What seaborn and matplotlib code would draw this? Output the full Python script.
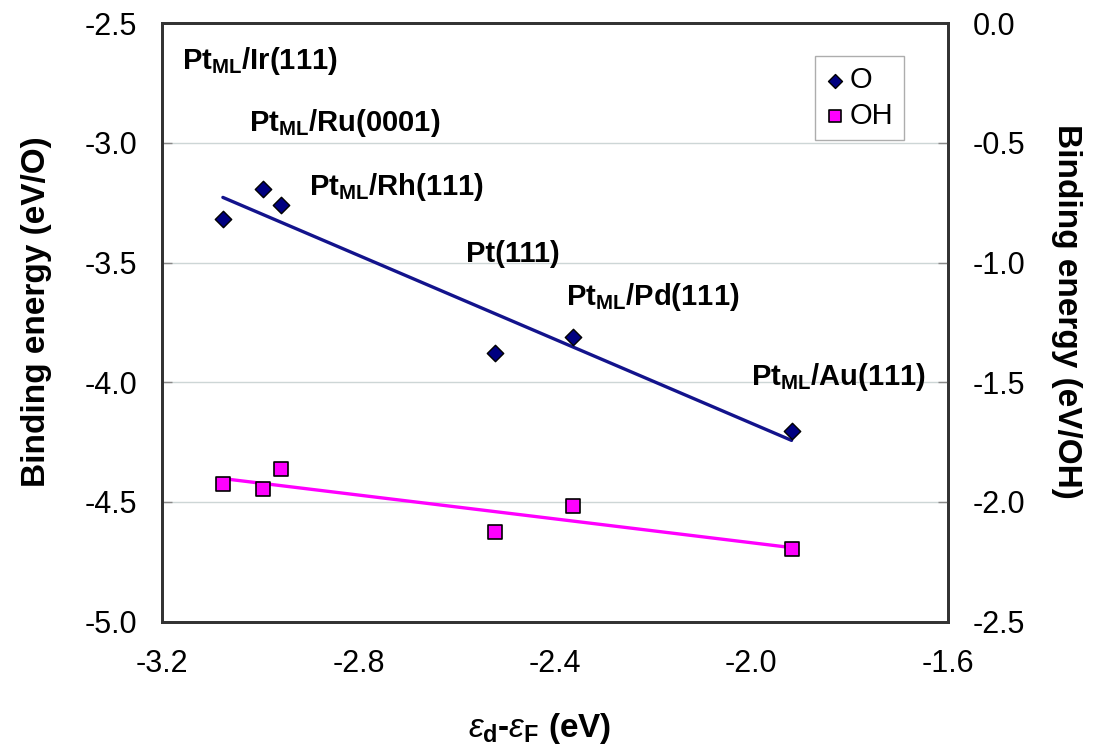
import numpy as np
import pandas as pd
import seaborn as sns
import matplotlib.pyplot as plt

sns.set_style('white')
plt.rcParams['font.family'] = ['Liberation Sans', 'DejaVu Sans']
plt.rcParams['mathtext.fontset'] = 'custom'
plt.rcParams['mathtext.rm'] = 'Liberation Sans'
plt.rcParams['mathtext.it'] = 'Liberation Sans:italic'
plt.rcParams['mathtext.bf'] = 'Liberation Sans:bold'
plt.rcParams['axes.unicode_minus'] = False
plt.rcParams['text.color'] = 'black'
plt.rcParams['axes.labelcolor'] = 'black'

# d-band centre vs binding energies
eps_d = [-3.076, -2.995, -2.958, -2.522, -2.363, -1.918]
be_O = [-3.318, -3.194, -3.260, -3.879, -3.812, -4.203]    # eV/O (left axis)
be_OH = [-1.924, -1.946, -1.861, -2.126, -2.015, -2.195]   # eV/OH (right axis)

labels = [r'Pt$_\mathregular{ML}$/Ir(111)', r'Pt$_\mathregular{ML}$/Ru(0001)',
          r'Pt$_\mathregular{ML}$/Rh(111)', 'Pt(111)',
          r'Pt$_\mathregular{ML}$/Pd(111)', r'Pt$_\mathregular{ML}$/Au(111)']
label_pos = [(-3.16, -2.658), (-3.023, -2.915), (-2.901, -3.186),
             (-2.580, -3.462), (-2.378, -3.642), (-2.0, -3.978)]

df = pd.DataFrame({'eps': eps_d, 'O': be_O, 'OH': be_OH})

fig, ax = plt.subplots(figsize=(11.02, 7.49), dpi=100)
fig.subplots_adjust(left=0.147, right=0.860, bottom=0.170, top=0.969)
ax2 = ax.twinx()

sns.regplot(x='eps', y='O', data=df, ax=ax, ci=None, marker='D', label='O',
            scatter_kws={'s': 70, 'color': '#000080', 'edgecolor': 'black',
                         'linewidths': 1, 'alpha': 1, 'zorder': 3},
            line_kws={'color': '#13138c', 'lw': 2.4})
sns.regplot(x='eps', y='OH', data=df, ax=ax2, ci=None, marker='s', label='OH',
            scatter_kws={'s': 110, 'color': '#ff00ff', 'edgecolor': 'black',
                         'linewidths': 1.2, 'alpha': 1, 'zorder': 3},
            line_kws={'color': '#ff00ff', 'lw': 2.4})

ax.set_xlim(-3.2, -1.6)
ax.set_ylim(-5.0, -2.5)
ax2.set_ylim(-2.5, 0.0)
ax.set_xticks(np.arange(-3.2, -1.55, 0.4))
ax.set_yticks(np.arange(-5.0, -2.45, 0.5))
ax2.set_yticks(np.arange(-2.5, 0.05, 0.5))
ax.set_xticklabels(['%.1f' % v for v in ax.get_xticks()])
ax.set_yticklabels(['%.1f' % v for v in ax.get_yticks()])
ax2.set_yticklabels(['%.1f' % v for v in ax2.get_yticks()])

ax.yaxis.grid(True, color='#cdd6d6', lw=1)
ax.xaxis.grid(False)
ax2.grid(False)

for a in (ax, ax2):
    for sp in a.spines.values():
        sp.set_color('#333333')
        sp.set_linewidth(2)
ax.tick_params(axis='x', direction='in', length=7, width=1, color='#888888',
               labelcolor='black', labelsize=22, pad=20)
ax.tick_params(axis='y', direction='in', length=7, width=1, color='#888888',
               labelcolor='black', labelsize=22, pad=18)
ax2.tick_params(axis='y', direction='in', length=7, width=1, color='#888888',
                labelcolor='black', labelsize=22, pad=18)

ax.set_xlabel(r'$\varepsilon_\mathregular{d}$-$\varepsilon_\mathregular{F}$ (eV)',
              fontsize=24, fontweight='bold')
ax.xaxis.set_label_coords(0.481, -0.15)
ax.set_ylabel('Binding energy (eV/O)', fontsize=24, fontweight='bold')
ax.yaxis.set_label_coords(-0.140, 0.518)
ax2.set_ylabel('Binding energy (eV/OH)', fontsize=24, fontweight='bold',
               rotation=270, va='bottom', ha='center', rotation_mode='anchor')
ax2.yaxis.set_label_coords(1.132, 0.518)

for txt, (x, y) in zip(labels, label_pos):
    ax.text(x, y, txt, fontsize=21, fontweight='bold', ha='left', va='center')

h1, l1 = ax.get_legend_handles_labels()
h2, l2 = ax2.get_legend_handles_labels()
leg = ax2.legend(h1 + h2, l1 + l2, loc='upper right', bbox_to_anchor=(0.944, 0.945),
                 borderaxespad=0, frameon=True, fancybox=False, edgecolor='#999999',
                 fontsize=21, handletextpad=0.15, handlelength=0.7, borderpad=0.35,
                 labelspacing=0.25, markerscale=0.85)
leg.get_frame().set_linewidth(1)

fig.savefig('out.png', dpi=100)
